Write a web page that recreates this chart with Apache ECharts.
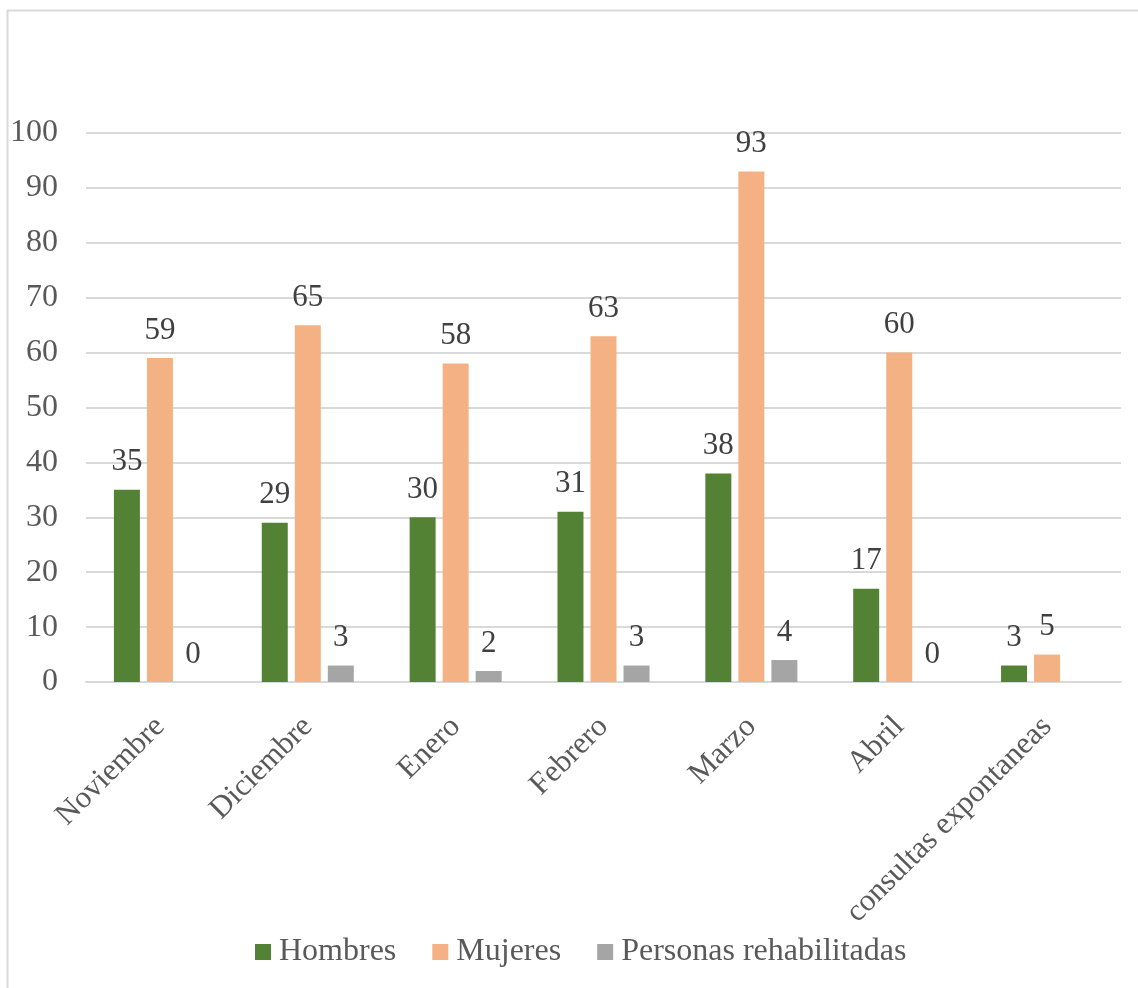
<!DOCTYPE html>
<html><head><meta charset="utf-8">
<script src="https://cdn.jsdelivr.net/npm/echarts@6/dist/echarts.min.js"></script>
<style>html,body{margin:0;padding:0;background:#fff}#c{width:1138px;height:988px}</style>
</head><body><div id="c"></div>
<script>
const categories = ['Noviembre','Diciembre','Enero','Febrero','Marzo','Abril','consultas expontaneas'];
const hombres = [35,29,30,31,38,17,3];
const mujeres = [59,65,58,63,93,60,5];
const rehabilitadas = [0,3,2,3,4,0,null];
const yTicks = {min:0, max:100, interval:10};

const font = '"Liberation Serif","Times New Roman",serif';
const chart = echarts.init(document.getElementById('c'));
const lbl = {show:true, position:'top', distance:12, color:'#404040', fontFamily:font, fontSize:31};
chart.setOption({
  animation:false,
  graphic:[
    {type:'line', shape:{x1:7, y1:10.5, x2:1138, y2:10.5}, style:{stroke:'#d9d9d9', lineWidth:2}},
    {type:'line', shape:{x1:7.5, y1:10, x2:7.5, y2:988}, style:{stroke:'#d9d9d9', lineWidth:2}}
  ],
  grid:{left:86, right:17, top:133, bottom:306, containLabel:false},
  legend:{top:931, left:250, itemWidth:16, itemHeight:16, itemGap:36,
    icon:'rect', textStyle:{fontFamily:font, fontSize:32, color:'#595959', padding:[0,0,0,3]},
    data:['Hombres','Mujeres','Personas rehabilitadas']},
  xAxis:{type:'category', data:categories,
    axisLine:{lineStyle:{color:'#d9d9d9', width:2}}, axisTick:{show:false},
    axisLabel:{rotate:45, margin:40, interval:0, fontFamily:font, fontSize:31, color:'#595959'}},
  yAxis:{type:'value', min:yTicks.min, max:yTicks.max, interval:yTicks.interval,
    axisLine:{show:false}, axisTick:{show:false},
    splitLine:{lineStyle:{color:'#d9d9d9', width:2}},
    axisLabel:{margin:28, fontFamily:font, fontSize:32, color:'#595959'}},
  series:[
    {name:'Hombres', type:'bar', data:hombres, barWidth:26, barGap:'27%', itemStyle:{color:'#548235'}, label:lbl},
    {name:'Mujeres', type:'bar', data:mujeres, barWidth:26, barGap:'27%', itemStyle:{color:'#F4B183'}, label:lbl},
    {name:'Personas rehabilitadas', type:'bar', data:rehabilitadas, barWidth:26, barGap:'27%', itemStyle:{color:'#A5A5A5'}, label:lbl}
  ]
});
</script></body></html>
